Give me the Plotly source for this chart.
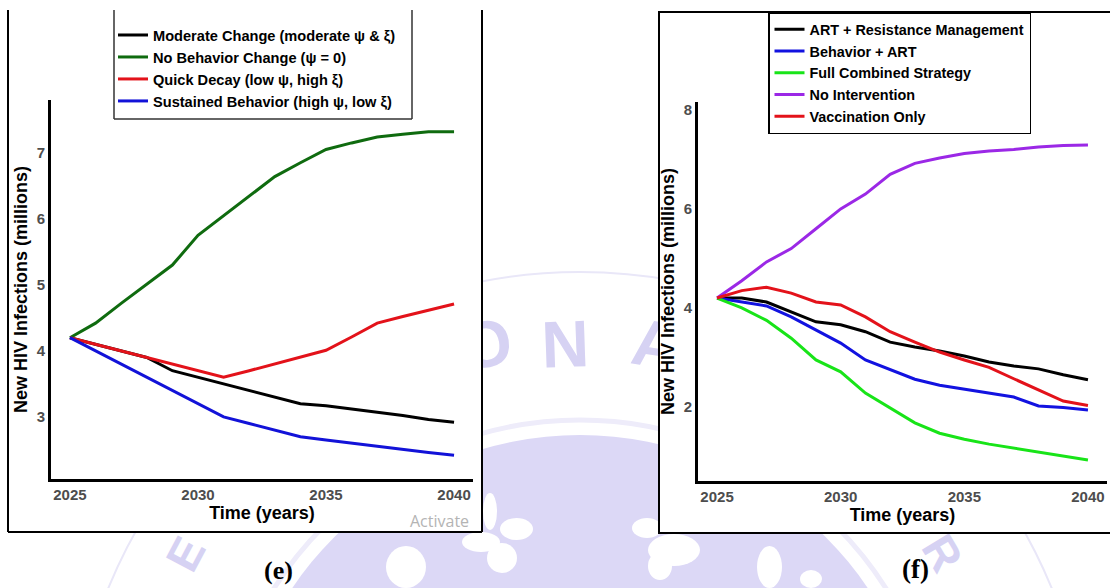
import plotly.graph_objects as go

# ---------------- data ----------------
years = list(range(2025, 2041))

# panel (e): behaviour scenarios
e_names = [
    "Moderate Change (moderate ψ & ξ)",
    "No Behavior Change (ψ = 0)",
    "Quick Decay (low ψ, high ξ)",
    "Sustained Behavior (high ψ, low ξ)",
]
e_moderate = [4.20, 4.10, 4.00, 3.90, 3.70, 3.60, 3.50, 3.40, 3.30, 3.20, 3.17, 3.12, 3.08, 3.02, 2.96, 2.92]
e_no_change = [4.20, 4.42, 4.72, 5.01, 5.30, 5.75, 6.05, 6.35, 6.64, 6.85, 7.05, 7.15, 7.24, 7.28, 7.32, 7.32]
e_quick = [4.20, 4.10, 4.00, 3.90, 3.80, 3.70, 3.60, 3.70, 3.80, 3.90, 4.01, 4.21, 4.42, 4.52, 4.62, 4.71]
e_sustained = [4.20, 4.00, 3.80, 3.60, 3.40, 3.20, 3.00, 2.90, 2.80, 2.70, 2.65, 2.60, 2.56, 2.51, 2.46, 2.42]
e_colors = ["#000000", "#0f6b0f", "#e3121a", "#1212d8"]

# panel (f): intervention strategies
f_names = [
    "ART + Resistance Management",
    "Behavior + ART",
    "Full Combined Strategy",
    "No Intervention",
    "Vaccination Only",
]
f_art_res = [4.20, 4.20, 4.12, 3.92, 3.72, 3.66, 3.52, 3.31, 3.21, 3.13, 3.03, 2.91, 2.83, 2.77, 2.65, 2.55]
f_behavior_art = [4.20, 4.12, 4.04, 3.82, 3.56, 3.29, 2.95, 2.75, 2.56, 2.44, 2.36, 2.28, 2.20, 2.02, 1.99, 1.94]
f_full = [4.20, 4.00, 3.75, 3.39, 2.95, 2.71, 2.28, 1.98, 1.68, 1.47, 1.35, 1.25, 1.17, 1.08, 1.00, 0.93]
f_no_int = [4.20, 4.55, 4.93, 5.20, 5.60, 6.00, 6.30, 6.70, 6.92, 7.03, 7.12, 7.17, 7.20, 7.25, 7.28, 7.29]
f_vacc = [4.20, 4.35, 4.42, 4.30, 4.12, 4.06, 3.82, 3.52, 3.31, 3.11, 2.95, 2.80, 2.57, 2.34, 2.12, 2.03]
f_colors = ["#000000", "#1212e0", "#18e418", "#9b28e6", "#e3121a"]

x_ticks = [2025, 2030, 2035, 2040]
e_y_ticks = [3, 4, 5, 6, 7]
f_y_ticks = [2, 4, 6, 8]

x_title = "Time (years)"
y_title = "New HIV Infections (millions)"

# ---------------- layout helpers ----------------
W, H = 1110, 588


def px(x):
    return x / W


def py(y):
    return 1 - y / H


SANS = "Liberation Sans, Arial, sans-serif"
SERIF = "Liberation Serif, Times New Roman, serif"
LAV = "#dcd8f6"

fig = go.Figure()

for name, vals, col in zip(e_names, [e_moderate, e_no_change, e_quick, e_sustained], e_colors):
    fig.add_trace(go.Scatter(x=years, y=vals, mode="lines", name=name,
                             line=dict(color=col, width=3),
                             xaxis="x", yaxis="y", legend="legend"))

for name, vals, col in zip(f_names, [f_art_res, f_behavior_art, f_full, f_no_int, f_vacc], f_colors):
    fig.add_trace(go.Scatter(x=years, y=vals, mode="lines", name=name,
                             line=dict(color=col, width=3),
                             xaxis="x2", yaxis="y2", legend="legend2"))

tick_font = dict(family=SANS, size=15, color="#4d4d4d", weight="bold")
title_font = dict(family=SANS, size=18, color="black", weight="bold")
axis_common = dict(showline=True, linewidth=3, linecolor="black", showgrid=False,
                   zeroline=False, ticks="", tickfont=tick_font, mirror=False,
                   fixedrange=True)

# ---------------- watermark + panels (shapes, below traces) ----------------
shapes = []
cx, cy = 580, 782


def circ(r, **kw):
    return dict(type="circle", xref="paper", yref="paper", layer="below",
                x0=px(cx - r), x1=px(cx + r), y0=py(cy + r), y1=py(cy - r), **kw)


shapes.append(circ(510, line=dict(color="#e9e7f8", width=2), fillcolor="rgba(0,0,0,0)"))
shapes.append(circ(362, line=dict(color="#eeecfa", width=5), fillcolor="rgba(0,0,0,0)"))
shapes.append(circ(347, line=dict(width=0), fillcolor=LAV))

blobs = [(483, 493, 497, 530), (500, 518, 533, 540), (487, 543, 517, 573),
         (632, 518, 662, 538), (648, 552, 672, 580), (386, 546, 426, 588),
         (462, 532, 500, 552), (648, 534, 700, 566), (757, 546, 782, 588),
         (800, 570, 822, 588)]
for (a, b, c, d) in blobs:
    shapes.append(dict(type="circle", xref="paper", yref="paper", layer="below",
                       x0=px(a), x1=px(c), y0=py(d), y1=py(b),
                       line=dict(width=0), fillcolor="white"))

letters = [("O", 485, 338, -10, 66), ("N", 565, 338, -2, 66), ("A", 657, 338, 9, 66),
           ("E", 182, 552, -62, 46), ("R", 946, 551, 59, 46)]
for (t, x, y, ang, sz) in letters:
    shapes.append(dict(type="rect", xref="paper", yref="paper", layer="below",
                       x0=px(x - 25), x1=px(x + 25), y0=py(y + 25), y1=py(y - 25),
                       line=dict(width=0), fillcolor="rgba(0,0,0,0)",
                       label=dict(text=t, textangle=ang, textposition="middle center",
                                  font=dict(family=SANS, size=sz, color="#d6d2f3", weight="bold"))))

# panel (e): white card, border on left/right/bottom
shapes.append(dict(type="rect", xref="paper", yref="paper", layer="below",
                   x0=px(8), x1=px(482), y0=py(532), y1=py(0),
                   line=dict(width=0), fillcolor="white"))
for (a, b, c, d) in [(8, 10, 8, 532), (482, 10, 482, 532), (8, 532, 482, 532)]:
    shapes.append(dict(type="line", xref="paper", yref="paper", layer="below",
                       x0=px(a), x1=px(c), y0=py(b), y1=py(d),
                       line=dict(color="black", width=2)))
# panel (f): white card with full border
shapes.append(dict(type="rect", xref="paper", yref="paper", layer="below",
                   x0=px(659), x1=px(1114), y0=py(533), y1=py(12),
                   line=dict(color="black", width=2), fillcolor="white"))
# legend (e) frame (top is cut off in the source)
for (a, b, c, d) in [(114, 10, 114, 119), (412, 10, 412, 119), (114, 119, 412, 119)]:
    shapes.append(dict(type="line", xref="paper", yref="paper", layer="above",
                       x0=px(a), x1=px(c), y0=py(b), y1=py(d),
                       line=dict(color="#333333", width=1.5)))

annotations = [
    dict(text="(e)", x=px(262), y=py(570), xref="paper", yref="paper", showarrow=False,
         yanchor="middle", font=dict(family=SERIF, size=26, color="black", weight="bold")),
    dict(text="(f)", x=px(931), y=py(569), xref="paper", yref="paper", showarrow=False,
         yanchor="middle", font=dict(family=SERIF, size=27, color="black", weight="bold")),
    dict(text="Activate", x=px(471), y=py(521), xref="paper", yref="paper", showarrow=False,
         xanchor="right", yanchor="middle",
         font=dict(family="Open Sans, sans-serif", size=16, color="#b4b4b4")),
]

fig.update_layout(
    width=W, height=H,
    margin=dict(l=0, r=0, t=0, b=0),
    paper_bgcolor="white", plot_bgcolor="rgba(0,0,0,0)",
    showlegend=True,
    xaxis=dict(domain=[px(51), px(473)], range=[2024.26, 2040.74], tickvals=x_ticks,
               anchor="y", title=dict(text=x_title, font=title_font, standoff=3), **axis_common),
    yaxis=dict(domain=[py(479), py(100)], range=[2.06, 7.8], tickvals=e_y_ticks,
               anchor="x", title=dict(text=y_title, font=title_font, standoff=5), **axis_common),
    xaxis2=dict(domain=[px(698), px(1107)], range=[2024.23, 2040.77], tickvals=x_ticks,
                anchor="y2", title=dict(text=x_title, font=title_font, standoff=3), **axis_common),
    yaxis2=dict(domain=[py(481), py(102)], range=[0.505, 8.16], tickvals=f_y_ticks,
                anchor="x2", title=dict(text=y_title, font=title_font, standoff=5), **axis_common),
    legend=dict(x=px(113), y=py(19), xanchor="left", yanchor="top",
                bgcolor="rgba(0,0,0,0)", borderwidth=0,
                font=dict(family=SANS, size=14.6, color="black", weight="bold")),
    legend2=dict(x=px(768), y=py(12), xanchor="left", yanchor="top",
                 bgcolor="white", bordercolor="black", borderwidth=1.5,
                 font=dict(family=SANS, size=14.4, color="black", weight="bold")),
    shapes=shapes,
    annotations=annotations,
)

fig.write_html("out.html")
